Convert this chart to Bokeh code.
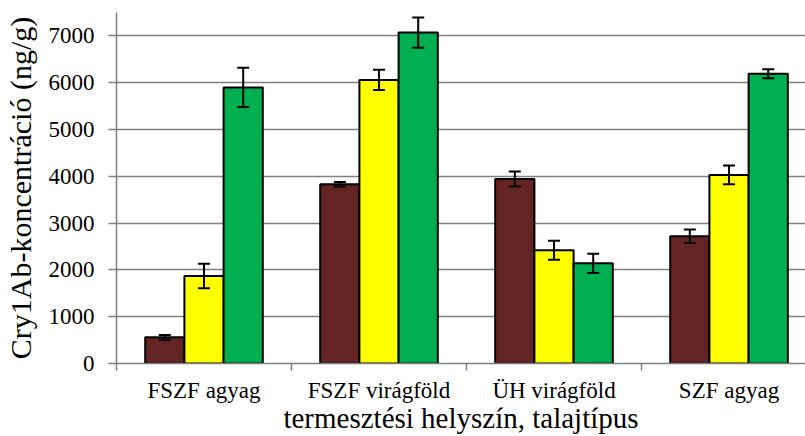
import numpy as np
from bokeh.plotting import figure
from bokeh.models import ColumnDataSource, Range1d, FixedTicker, Whisker, TeeHead
from bokeh.embed import file_html
from bokeh.resources import INLINE

categories = ["FSZF agyag", "FSZF virágföld", "ÜH virágföld", "SZF agyag"]
series_brown = [560, 3830, 3940, 2720]
series_yellow = [1870, 6060, 2420, 4030]
series_green = [5900, 7070, 2140, 6190]
err_brown = [50, 50, 160, 145]
err_yellow = [260, 215, 205, 200]
err_green = [420, 325, 205, 95]
y_ticks = [0, 1000, 2000, 3000, 4000, 5000, 6000, 7000]

colors = ["#632523", "#FFFF00", "#00B050"]
series = [series_brown, series_yellow, series_green]
errors = [err_brown, err_yellow, err_green]

FONT = "'Liberation Serif'"
GRAY = "#808080"

p = figure(width=805, height=436, output_backend="svg", toolbar_location=None,
           x_range=Range1d(0, 3.937), y_range=Range1d(0, 7500),
           min_border_left=116, min_border_right=0, min_border_top=12, min_border_bottom=72)
p.outline_line_color = None
p.xgrid.grid_line_color = None
p.ygrid.grid_line_color = GRAY
p.ygrid.grid_line_width = 1.5

bar_w = 0.224
offsets = [-bar_w, 0.0, bar_w]
idx = np.arange(len(categories)) + 0.5
for vals, errs, col, off in zip(series, errors, colors, offsets):
    x = idx + off
    v = np.array(vals, dtype=float)
    e = np.array(errs, dtype=float)
    src = ColumnDataSource(dict(x=x, top=v, upper=v + e, lower=v - e))
    p.vbar(x="x", top="top", width=bar_w, source=src, fill_color=col,
           line_color="black", line_width=2)
    w = Whisker(source=src, base="x", upper="upper", lower="lower", level="overlay",
                line_color="black", line_width=2,
                upper_head=TeeHead(size=12, line_width=2, line_color="black"),
                lower_head=TeeHead(size=12, line_width=2, line_color="black"))
    p.add_layout(w)

# y axis
p.yaxis.ticker = FixedTicker(ticks=y_ticks)
p.yaxis.axis_line_color = GRAY
p.yaxis.axis_line_width = 1.5
p.yaxis.major_tick_line_color = GRAY
p.yaxis.major_tick_line_width = 1.5
p.yaxis.major_tick_out = 8
p.yaxis.major_tick_in = 0
p.yaxis.minor_tick_line_color = None
p.yaxis.major_label_text_font = FONT
p.yaxis.major_label_text_font_size = "23px"
p.yaxis.major_label_text_color = "black"
p.yaxis.major_label_standoff = 14
p.yaxis.axis_label = "Cry1Ab-koncentráció (ng/g)"
p.yaxis.axis_label_text_font = FONT
p.yaxis.axis_label_text_font_size = "30px"
p.yaxis.axis_label_text_font_style = "normal"
p.yaxis.axis_label_text_color = "black"
p.yaxis.axis_label_standoff = 9

# x axis
p.xaxis.ticker = FixedTicker(ticks=list(idx), minor_ticks=list(range(len(categories) + 1)))
p.xaxis.major_label_overrides = {float(i): c for i, c in zip(idx, categories)}
p.xaxis.axis_line_color = GRAY
p.xaxis.axis_line_width = 1.5
p.xaxis.major_tick_line_color = None
p.xaxis.major_tick_out = 7
p.xaxis.major_tick_in = 0
p.xaxis.minor_tick_line_color = GRAY
p.xaxis.minor_tick_line_width = 1.5
p.xaxis.minor_tick_out = 7
p.xaxis.minor_tick_in = 0
p.xaxis.major_label_text_font = FONT
p.xaxis.major_label_text_font_size = "23px"
p.xaxis.major_label_text_color = "black"
p.xaxis.major_label_standoff = 7
p.xaxis.axis_label = "termesztési helyszín, talajtípus"
p.xaxis.axis_label_text_font = FONT
p.xaxis.axis_label_text_font_size = "29px"
p.xaxis.axis_label_text_font_style = "normal"
p.xaxis.axis_label_text_color = "black"
p.xaxis.axis_label_standoff = -4

open("out.html", "w").write(file_html(p, INLINE))
